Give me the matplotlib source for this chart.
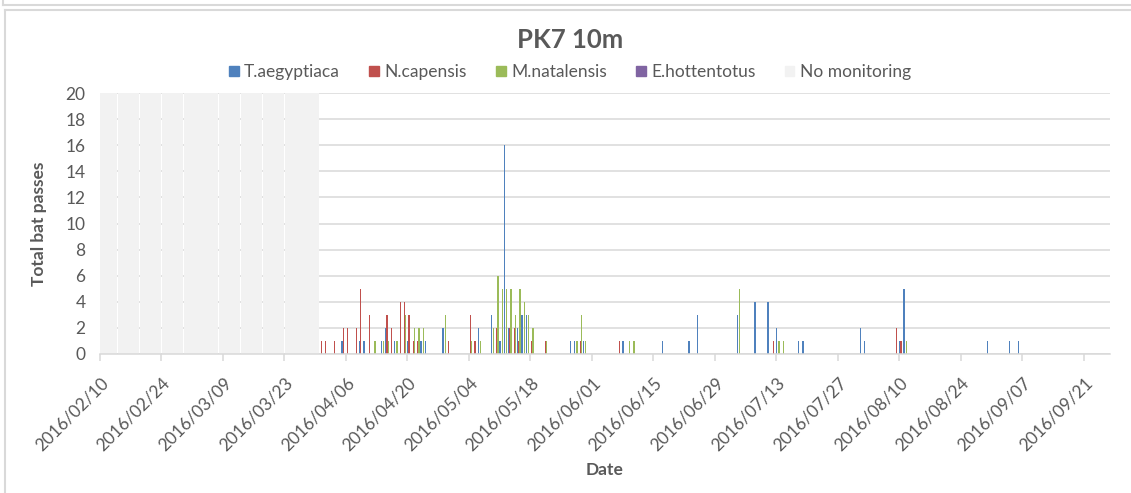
import numpy as np
import pandas as pd
import matplotlib
matplotlib.use('Agg')
import matplotlib.pyplot as plt
import matplotlib.dates as mdates
import matplotlib.transforms as mtransforms
from matplotlib.lines import Line2D
from matplotlib.patches import Patch

plt.rcParams['font.family'] = ['Lato', 'DejaVu Sans']

# data (daily bat passes)
t_aeg_dates = ['2016-04-05', '2016-04-09', '2016-04-10', '2016-04-14', '2016-04-15',
               '2016-04-17', '2016-04-20', '2016-04-23', '2016-04-24', '2016-04-28',
               '2016-05-06', '2016-05-09', '2016-05-11', '2016-05-12', '2016-05-13',
               '2016-05-15', '2016-05-16', '2016-05-17', '2016-05-27', '2016-05-28',
               '2016-05-30', '2016-06-08', '2016-06-17', '2016-06-23', '2016-06-25',
               '2016-07-04', '2016-07-08', '2016-07-11', '2016-07-13', '2016-07-18',
               '2016-07-19', '2016-08-01', '2016-08-02', '2016-08-10', '2016-08-11',
               '2016-08-30', '2016-09-04', '2016-09-06']
t_aeg_counts = [1, 1, 1, 1, 2,
                1, 1, 1, 1, 2,
                2, 3, 1, 16, 2,
                2, 3, 3, 1, 1,
                1, 1, 1, 1, 3,
                3, 4, 4, 2, 1,
                1, 2, 1, 1, 5,
                1, 1, 1]

n_cap_dates = ['2016-03-31', '2016-04-01', '2016-04-03', '2016-04-05', '2016-04-06',
               '2016-04-08', '2016-04-09', '2016-04-11', '2016-04-15', '2016-04-16',
               '2016-04-18', '2016-04-19', '2016-04-20', '2016-04-21', '2016-04-22',
               '2016-04-29', '2016-05-04', '2016-05-05', '2016-05-10', '2016-05-13',
               '2016-05-14', '2016-05-15', '2016-05-18', '2016-05-21', '2016-05-29',
               '2016-06-07', '2016-07-12', '2016-08-09', '2016-08-10']
n_cap_counts = [1, 1, 1, 2, 2,
                2, 5, 3, 3, 2,
                4, 4, 3, 1, 1,
                1, 3, 1, 2, 2,
                2, 1, 1, 1, 1,
                1, 1, 2, 1]

m_nat_dates = ['2016-04-12', '2016-04-14', '2016-04-15', '2016-04-17', '2016-04-19',
               '2016-04-21', '2016-04-22', '2016-04-23', '2016-04-28', '2016-05-04',
               '2016-05-06', '2016-05-09', '2016-05-10', '2016-05-11', '2016-05-12',
               '2016-05-13', '2016-05-14', '2016-05-15', '2016-05-16', '2016-05-17',
               '2016-05-18', '2016-05-21', '2016-05-28', '2016-05-29', '2016-05-30',
               '2016-06-09', '2016-06-10', '2016-07-04', '2016-07-13', '2016-07-14',
               '2016-08-11']
m_nat_counts = [1, 1, 1, 1, 3,
                2, 2, 2, 3, 1,
                1, 2, 6, 5, 5,
                5, 3, 5, 4, 3,
                2, 1, 1, 3, 1,
                1, 1, 5, 1, 1,
                1]

e_hot_dates = []
e_hot_counts = []

no_mon_start = '2016-02-10'
no_mon_end = '2016-03-30'
no_mon_level = 20

tick_start = '2016-02-10'
tick_end = '2016-09-21'

species = ['T.aegyptiaca', 'N.capensis', 'M.natalensis', 'E.hottentotus']
colors = ['#4F81BD', '#C0504D', '#9BBB59', '#8064A2']
gray_fill = '#F2F2F2'
text_col = '#595959'
line_col = '#D9D9D9'

W, H = 1131, 493
fig = plt.figure(figsize=(W / 100, H / 100), dpi=100)
ax = fig.add_axes([100 / W, 1 - 354 / H, 1010 / W, 261 / H])

# no monitoring period
gap_days = pd.date_range(no_mon_start, no_mon_end, freq='D')
ax.bar(gap_days + pd.Timedelta(hours=12), [no_mon_level] * len(gap_days),
       width=0.97, color=gray_fill, linewidth=0, zorder=2)

# species bars, clustered inside each day
all_dates = [t_aeg_dates, n_cap_dates, m_nat_dates, e_hot_dates]
all_counts = [t_aeg_counts, n_cap_counts, m_nat_counts, e_hot_counts]
step = 0.25
bw = 0.3
for i in range(4):
	if len(all_dates[i]) == 0:
		continue
	d = pd.to_datetime(all_dates[i]) + pd.Timedelta(days=0.5 + (i - 1.5) * step)
	ax.bar(d, all_counts[i], width=bw, color=colors[i], linewidth=0,
		   antialiased=False, zorder=3)

ax.set_xlim(pd.Timestamp('2016-02-10'), pd.Timestamp('2016-09-27'))
ax.set_ylim(0, 20)
ax.set_yticks(np.arange(0, 21, 2))
ax.yaxis.grid(True, color=line_col, linewidth=1.1)
ax.set_axisbelow(True)

ticks = pd.date_range(tick_start, tick_end, freq='14D')
ax.set_xticks(ticks)
ax.xaxis.set_major_formatter(mdates.DateFormatter('%Y/%m/%d'))

for s in ['top', 'right', 'left']:
	ax.spines[s].set_visible(False)
ax.spines['bottom'].set_color(line_col)
ax.spines['bottom'].set_linewidth(1.1)
ax.spines['bottom'].set_zorder(4)

ax.tick_params(axis='y', length=0, pad=10.5, labelsize=12.5, labelcolor=text_col)
ax.tick_params(axis='x', length=5, width=1.1, color=line_col, direction='out',
			   pad=14, labelsize=12.5, labelcolor=text_col)
offset = mtransforms.ScaledTranslation(6 / 100, 0, fig.dpi_scale_trans)
for lab in ax.get_xticklabels():
	lab.set_rotation(45)
	lab.set_ha('right')
	lab.set_va('center')
	lab.set_rotation_mode('anchor')
	lab.set_transform(lab.get_transform() + offset)

ax.set_ylabel('Total bat passes', fontsize=12.5, fontweight='bold', color=text_col)
ax.yaxis.set_label_coords(-0.0525, 0.5)
ax.set_xlabel('Date', fontsize=12.5, fontweight='bold', color=text_col)
ax.xaxis.set_label_coords(0.5, -0.414)

fig.text(570 / W, 1 - 40 / H, 'PK7 10m', ha='center', va='center',
		 fontsize=18.5, fontweight='bold', color=text_col)

handles = [Patch(color=c) for c in colors] + [Patch(color=gray_fill)]
leg = fig.legend(handles, species + ['No monitoring'], loc='center',
				 bbox_to_anchor=(570 / W, 1 - 72 / H), ncol=5, frameon=False,
				 fontsize=12.5, handlelength=0.55, handleheight=0.55,
				 handletextpad=0.3, columnspacing=1.7)
for t in leg.get_texts():
	t.set_color(text_col)

# chart frames (bottom of chart above and this chart box)
fx = lambda px: px / W
fy = lambda py: 1 - py / H
fig.add_artist(Line2D([fx(3), fx(W)], [fy(5), fy(5)], color=line_col, lw=1.5, transform=fig.transFigure))
fig.add_artist(Line2D([fx(3), fx(3)], [fy(0), fy(5)], color=line_col, lw=1.5, transform=fig.transFigure))
fig.add_artist(Line2D([fx(5), fx(W)], [fy(10), fy(10)], color=line_col, lw=1.5, transform=fig.transFigure))
fig.add_artist(Line2D([fx(5), fx(5)], [fy(10), fy(H)], color=line_col, lw=1.5, transform=fig.transFigure))

fig.savefig('out.png', dpi=100)
